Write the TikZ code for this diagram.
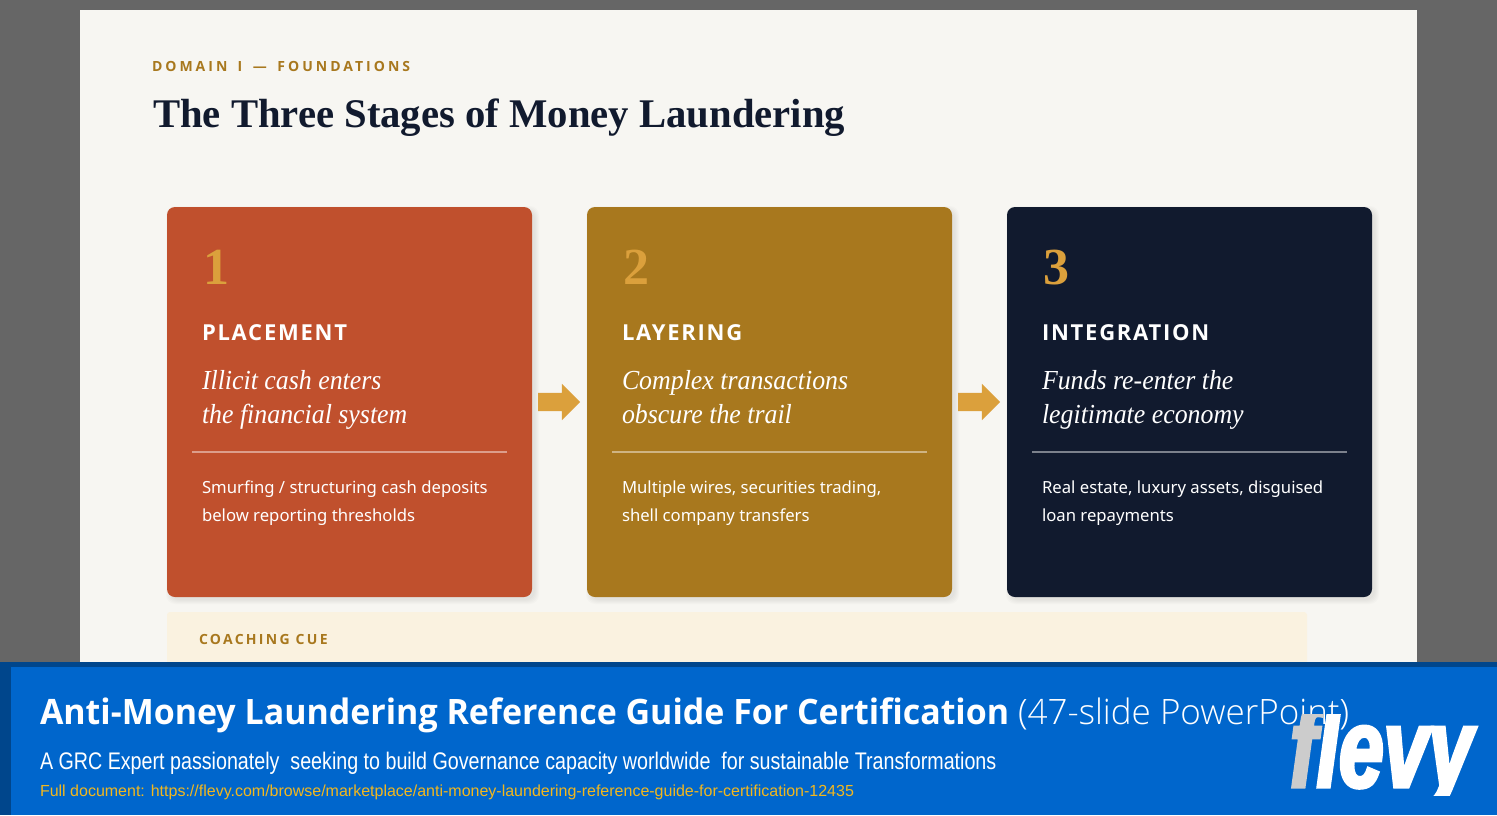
\documentclass[tikz,border=0pt]{standalone}
\usepackage{fontspec}
\usetikzlibrary{shapes.arrows,calc}
\setmainfont{Noto Sans}
\newfontfamily\ttlfont{Liberation Serif}[Ligatures=TeX]
\newfontfamily\numfont{Liberation Serif}
\newfontfamily\itfont{Liberation Serif Italic}[FakeStretch=0.94]
\newfontfamily\bodyfont{Noto Sans}
\newfontfamily\domfont{Open Sans Bold}[LetterSpace=21.5]
\newfontfamily\cuefont{Open Sans Bold}[LetterSpace=16.4]
\newfontfamily\stagefont{Open Sans Bold}[LetterSpace=8]
\newfontfamily\bantfont{Open Sans Bold}[FakeStretch=0.97]
\IfFontExistsTF{Open Sans Light}{\newfontfamily\banlfont{Open Sans Light}}{\IfFontExistsTF{Lato Light}{\newfontfamily\banlfont{Lato Light}}{\newfontfamily\banlfont{Open Sans}}}
\newfontfamily\banfont{Liberation Sans}[FakeStretch=0.82]
\newfontfamily\urlfont{Liberation Sans}
\newfontfamily\logofont{Liberation Sans Bold Italic}[FakeStretch=0.71,FakeBold=3]
\definecolor{pagegrey}{HTML}{666666}
\definecolor{slide}{HTML}{F7F6F2}
\definecolor{rust}{HTML}{C0502D}
\definecolor{ochre}{HTML}{A8781E}
\definecolor{navy}{HTML}{111A2E}
\definecolor{gold}{HTML}{DBA03C}
\definecolor{cue}{HTML}{FAF2E0}
\definecolor{banner}{HTML}{0066CC}
\definecolor{bandark}{HTML}{00468C}
\definecolor{urlgold}{HTML}{F2B71E}
\definecolor{logogrey}{HTML}{CCCCCC}
\tikzset{
  card/.style={rounded corners=8pt,minimum width=365pt,minimum height=390pt,inner sep=0,outer sep=0,anchor=north west},
  txt/.style={anchor=base west,inner sep=0,outer sep=0},
  flow/.style={single arrow,fill=gold,inner sep=0,outer sep=0,minimum height=42pt,minimum width=36pt,single arrow head extend=9pt,single arrow head indent=0pt,xshift=-5pt},
  numtxt/.style={txt,text=gold,font=\numfont\bfseries\fontsize{52}{52}\selectfont},
  stagetxt/.style={txt,text=white,font=\stagefont\fontsize{22}{22}\selectfont},
  ittxt/.style={txt,text=white,font=\itfont\fontsize{27.5}{34}\selectfont,align=left},
  bodytxt/.style={txt,text=white,font=\bodyfont\fontsize{16.7}{28}\selectfont,align=left},
  rulel/.style={draw=white,draw opacity=.45,line width=1.5pt},
}
\newcommand{\cardshadow}[2]{%
  \foreach \k in {0,...,4}{
    \fill[black,opacity=.015,rounded corners=9pt]
      ($(#1)+({3-\k},{3-\k})$) rectangle ($(#1)+({368+\k},{393+\k})$);
  }
}
\begin{document}
\begin{tikzpicture}[x=1pt,y=-1pt]
\useasboundingbox (0,0) rectangle (1497,815);
\fill[pagegrey] (0,0) rectangle (1497,815);
\fill[slide] (80,10) rectangle (1417,662);

\node[txt,text=ochre,font=\domfont\fontsize{14}{14}\selectfont] (dom) at (152,71) {DOMAIN\hspace{3.5pt} I\hspace{4pt} —\hspace{4pt} FOUNDATIONS};
\node[txt,text=navy,font=\ttlfont\bfseries\fontsize{40.7}{40}\selectfont] (ttl) at (153,127) {The Three Stages of Money Laundering};

\coordinate (p1) at (167,207);
\coordinate (p2) at (587,207);
\coordinate (p3) at (1007,207);
\cardshadow{p1}{}\cardshadow{p2}{}\cardshadow{p3}{}
\node[card,fill=rust] (c1) at (p1) {};
\node[card,fill=ochre] (c2) at (p2) {};
\node[card,fill=navy] (c3) at (p3) {};

\node[flow] (a1) at ($(c1.east)!.5!(c2.west)$) {\rule{0pt}{18pt}};
\node[flow] (a2) at ($(c2.east)!.5!(c3.west)$) {\rule{0pt}{18pt}};

% card 1
\node[numtxt] (n1) at (203,284) {1};
\node[stagetxt] (s1) at (202,340) {PLACEMENT};
\node[ittxt] (i1a) at (202,389) {Illicit cash enters};
\node[ittxt] (i1b) at (202,423) {the financial system};
\draw[rulel] (192,452) -- (507,452);
\node[bodytxt] (b1a) at (202,493) {Smurfing / structuring cash deposits};
\node[bodytxt] (b1b) at (202,521) {below reporting thresholds};
% card 2
\node[numtxt] (n2) at (623,284) {2};
\node[stagetxt] (s2) at (622,340) {LAYERING};
\node[ittxt] (i2a) at (622,389) {Complex transactions};
\node[ittxt] (i2b) at (622,423) {obscure the trail};
\draw[rulel] (612,452) -- (927,452);
\node[bodytxt] (b2a) at (622,493) {Multiple wires, securities trading,};
\node[bodytxt] (b2b) at (622,521) {shell company transfers};
% card 3
\node[numtxt] (n3) at (1043,284) {3};
\node[stagetxt] (s3) at (1042,340) {INTEGRATION};
\node[ittxt] (i3a) at (1042,389) {Funds re-enter the};
\node[ittxt] (i3b) at (1042,423) {legitimate economy};
\draw[rulel] (1032,452) -- (1347,452);
\node[bodytxt] (b3a) at (1042,493) {Real estate, luxury assets, disguised};
\node[bodytxt] (b3b) at (1042,521) {loan repayments};

% coaching cue
\fill[cue,rounded corners=3pt] (167,612) rectangle (1307,670);
\node[txt,text=ochre,font=\cuefont\fontsize{14}{14}\selectfont] (cuelbl) at (199,644) {COACHING CUE};

% banner
\fill[bandark] (0,662) rectangle (1497,815);
\fill[banner] (11,667) rectangle (1497,815);
\node[txt,text=white,font=\bantfont\fontsize{35}{35}\selectfont] (bt) at (40,724) {Anti-Money Laundering Reference Guide For Certification};
\node[txt,text=white,font=\banlfont\fontsize{35}{35}\selectfont] (bl) at (1018,724) {(47-slide PowerPoint)};
\node[txt,text=white,font=\banfont\fontsize{24}{24}\selectfont] (bs) at (40,769) {A GRC Expert passionately\ \ seeking to build Governance capacity worldwide\ \ for sustainable Transformations};
\node[txt,text=urlgold,font=\urlfont\fontsize{16}{16}\selectfont] (bu) at (40,796) {Full document: https://flevy.com/browse/marketplace/anti-money-laundering-reference-guide-for-certification-12435};
\begin{scope}
\clip (1280,714) rectangle (1490,795);
\node[txt,font=\logofont\fontsize{113}{113}\selectfont] (logo) at (1290,787) {\textcolor{logogrey}{f}\textcolor{white}{levy}};
\end{scope}
\end{tikzpicture}
\end{document}
